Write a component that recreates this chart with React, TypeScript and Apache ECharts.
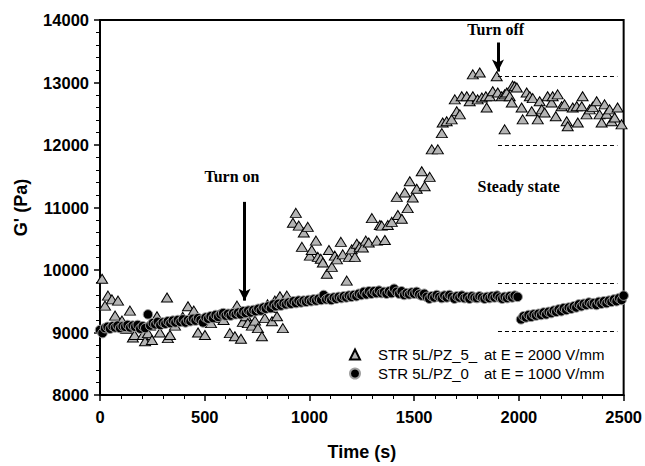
import React, { useEffect, useRef } from "react";
import * as echarts from "echarts";

const xTicks = [0, 500, 1000, 1500, 2000, 2500];
const yTicks = [8000, 9000, 10000, 11000, 12000, 13000, 14000];

const seriesNames = ["STR 5L/PZ_5_", "STR 5L/PZ_0"];
const seriesFields = ["at E = 2000 V/mm", "at E = 1000 V/mm"];

// STR 5L/PZ_5_ (triangles) [time s, G' Pa]
const triData: number[][] = [
  [10, 9860], [24, 9430], [38, 9590], [57, 9530], [72, 9270], [86, 9510], [105, 9190], [125, 9060],
  [143, 9350], [157, 8920], [165, 8960], [180, 9100], [205, 8960], [215, 8860], [229, 8990], [239, 9110],
  [248, 8880], [272, 9260], [286, 9000], [300, 9150], [320, 9560], [324, 8910], [334, 8960], [358, 9110],
  [372, 9190], [395, 9250], [420, 9420], [448, 9350], [468, 9000], [480, 9200], [501, 8960], [530, 9150],
  [560, 9230], [590, 9200], [620, 8990], [644, 8940], [654, 9430], [673, 8900], [682, 9170], [697, 9260],
  [706, 9150], [725, 9110], [740, 9190], [754, 9070], [773, 8940], [787, 9230], [800, 9450], [811, 9390],
  [821, 9180], [835, 9510], [845, 9260], [859, 9580], [873, 9070], [892, 9590],
  [921, 10755], [935, 10914], [949, 10710], [964, 10370], [973, 10600], [992, 10690], [1002, 10230],
  [1011, 10320], [1031, 10470], [1040, 10210], [1054, 10180], [1064, 10120], [1083, 9940], [1093, 10320],
  [1107, 10050], [1121, 10230], [1131, 10170], [1150, 10450], [1159, 10250], [1178, 9830], [1188, 10210],
  [1202, 10330], [1217, 10210], [1226, 10420], [1240, 10370], [1255, 10360], [1269, 10470], [1283, 10440],
  [1298, 10830], [1322, 10470], [1336, 10720], [1345, 10710], [1360, 10480], [1374, 10720], [1393, 10770],
  [1417, 11170], [1422, 10880], [1441, 10820], [1455, 11240], [1469, 10990], [1479, 11420], [1493, 11160],
  [1512, 11300], [1536, 11580], [1550, 11340], [1574, 11490], [1584, 11930], [1613, 11930], [1632, 12190],
  [1636, 12360], [1655, 12380], [1679, 12410], [1694, 12730], [1703, 12540], [1718, 12490], [1727, 12780],
  [1751, 12780], [1765, 12700], [1780, 12780], [1780, 13130], [1803, 12730], [1813, 13160], [1823, 12760],
  [1842, 12780], [1846, 12600], [1861, 12780], [1875, 12860], [1894, 13100], [1899, 12840], [1918, 12780],
  [1932, 12810], [1932, 12250], [1942, 12840], [1956, 12780], [1966, 12680], [1970, 12950], [1980, 12940],
  [1990, 12920], [2013, 12600], [2018, 12410], [2037, 12840], [2052, 12780], [2061, 12540], [2066, 12750],
  [2090, 12410], [2099, 12700], [2109, 12570], [2123, 12520], [2137, 12780], [2156, 12680], [2161, 12780],
  [2176, 12460], [2185, 12810], [2204, 12620], [2218, 12650], [2228, 12380], [2233, 12300], [2257, 12600],
  [2276, 12620], [2281, 12360], [2300, 12620], [2304, 12780], [2323, 12490], [2338, 12570], [2352, 12610],
  [2371, 12700], [2385, 12490], [2395, 12360], [2409, 12650], [2419, 12500], [2433, 12570], [2443, 12380],
  [2457, 12440], [2471, 12600], [2490, 12330],
];

// STR 5L/PZ_0 (circles) [time s, G' Pa]
const circData: number[][] = [
  [0, 9040], [12, 8990], [24, 9070], [36, 9090], [48, 9060], [60, 9100], [72, 9080], [84, 9110],
  [96, 9070], [108, 9100], [120, 9090], [132, 9120], [144, 9080], [156, 9110], [168, 9090], [180, 9120],
  [192, 9060], [204, 9100], [216, 9070], [229, 9290], [240, 9110], [252, 9150], [264, 9130], [276, 9170],
  [288, 9120], [300, 9160], [312, 9140], [324, 9180], [336, 9150], [348, 9190], [360, 9160], [372, 9200],
  [384, 9170], [396, 9210], [408, 9160], [420, 9200], [432, 9180], [444, 9220], [456, 9190], [468, 9230],
  [480, 9200], [492, 9160], [504, 9240], [516, 9220], [528, 9260], [540, 9230], [552, 9280], [564, 9250],
  [576, 9290], [588, 9310], [600, 9270], [612, 9300], [624, 9270], [636, 9310], [648, 9290], [660, 9320],
  [672, 9290], [684, 9340], [696, 9310], [708, 9350], [720, 9320], [732, 9360], [744, 9340], [756, 9380],
  [768, 9350], [780, 9400], [792, 9380], [804, 9420], [816, 9390], [828, 9450], [840, 9420], [852, 9460],
  [864, 9430], [876, 9470], [888, 9450], [900, 9480], [912, 9460], [924, 9500], [936, 9470], [948, 9510],
  [960, 9480], [972, 9510], [984, 9490], [996, 9520], [1008, 9500], [1020, 9530], [1032, 9510], [1044, 9540],
  [1056, 9520], [1068, 9600], [1080, 9530], [1092, 9550], [1104, 9520], [1116, 9560], [1128, 9540],
  [1140, 9570], [1152, 9550], [1164, 9580], [1176, 9560], [1188, 9590], [1200, 9570], [1212, 9600],
  [1224, 9580], [1236, 9620], [1248, 9600], [1260, 9650], [1272, 9610], [1284, 9660], [1296, 9620],
  [1308, 9660], [1320, 9630], [1332, 9670], [1344, 9630], [1356, 9650], [1368, 9620], [1380, 9660],
  [1392, 9630], [1404, 9700], [1416, 9650], [1428, 9620], [1440, 9660], [1452, 9600], [1464, 9630],
  [1476, 9610], [1488, 9640], [1500, 9620], [1512, 9650], [1524, 9610], [1536, 9590], [1548, 9620],
  [1560, 9570], [1572, 9540], [1584, 9580], [1596, 9560], [1608, 9600], [1620, 9570], [1632, 9550],
  [1644, 9590], [1656, 9560], [1668, 9600], [1680, 9570], [1692, 9540], [1704, 9580], [1716, 9560],
  [1728, 9590], [1740, 9550], [1752, 9570], [1764, 9540], [1776, 9580], [1788, 9560], [1800, 9550],
  [1812, 9580], [1824, 9560], [1836, 9540], [1848, 9570], [1860, 9550], [1872, 9580], [1884, 9560],
  [1896, 9590], [1908, 9560], [1920, 9540], [1932, 9570], [1944, 9550], [1956, 9580], [1968, 9560],
  [1980, 9590], [1994, 9570],
  [2010, 9210], [2022, 9260], [2034, 9240], [2046, 9280], [2058, 9250], [2070, 9290], [2082, 9270],
  [2094, 9300], [2106, 9280], [2118, 9320], [2130, 9290], [2142, 9330], [2154, 9310], [2166, 9350],
  [2178, 9330], [2190, 9370], [2202, 9340], [2214, 9390], [2226, 9360], [2238, 9400], [2250, 9380],
  [2262, 9420], [2274, 9400], [2286, 9450], [2298, 9420], [2310, 9460], [2322, 9440], [2334, 9480],
  [2346, 9450], [2358, 9470], [2370, 9440], [2382, 9490], [2394, 9460], [2406, 9500], [2418, 9470],
  [2430, 9510], [2442, 9490], [2454, 9530], [2466, 9500], [2478, 9550], [2490, 9520], [2500, 9590],
];

// Steady-state bands [tStart, tEnd, value]
const bandLines: number[][] = [
  [1900, 2470, 13100],
  [1900, 2470, 12000],
  [1900, 2470, 9790],
  [1900, 2470, 9020],
];
// Arrows [t, vFrom, vTo]
const arrows: number[][] = [
  [690, 11090, 9510],
  [1900, 13640, 13175],
];
// Annotation texts
const notes = [
  { text: "Turn on", t: 630, v: 11490 },
  { text: "Turn off", t: 1889, v: 13845 },
  { text: "Steady state", t: 1999, v: 11344 },
];

const SANS = "'Liberation Sans', Arial, sans-serif";
const SERIF = "'Liberation Serif', 'Times New Roman', serif";

export default function App() {
  const ref = useRef<HTMLDivElement>(null);
  useEffect(() => {
    if (!ref.current) return;
    const chart = echarts.init(ref.current, undefined, { renderer: "svg" });
    const markLineData: any[] = [];
    bandLines.forEach(([a, b, v]) => {
      markLineData.push([
        { coord: [a, v], symbol: "none", lineStyle: { type: [4, 3], width: 1, color: "#000" } },
        { coord: [b, v], symbol: "none" },
      ]);
    });
    arrows.forEach(([t, v1, v2]) => {
      markLineData.push([
        { coord: [t, v1], symbol: "none", lineStyle: { type: "solid", width: 3, color: "#000" } },
        { coord: [t, v2], symbol: "arrow", symbolSize: [9, 12] },
      ]);
    });
    const option: any = {
      animation: false,
      backgroundColor: "#fff",
      grid: {
        left: 100, right: 21, top: 20, bottom: 69,
        show: true, borderColor: "#000", borderWidth: 2,
      },
      xAxis: {
        type: "value", min: 0, max: 2500, interval: 500,
        name: "Time (s)", nameLocation: "middle", nameGap: 48,
        nameTextStyle: { fontFamily: SANS, fontWeight: "bold", fontSize: 18, color: "#000" },
        axisLine: { show: true, lineStyle: { color: "#000", width: 2 } },
        axisTick: { show: true, length: 6, lineStyle: { color: "#000", width: 1.5 } },
        minorTick: { show: true, splitNumber: 5, length: 4, lineStyle: { color: "#000", width: 1 } },
        splitLine: { show: false },
        axisLabel: { fontFamily: SANS, fontWeight: "bold", fontSize: 16.5, color: "#000", margin: 13,
          formatter: (v: number) => (xTicks.includes(v) ? String(v) : "") },
      },
      yAxis: {
        type: "value", min: 8000, max: 14000, interval: 1000,
        name: "G' (Pa)", nameLocation: "middle", nameGap: 70,
        nameTextStyle: { fontFamily: SANS, fontWeight: "bold", fontSize: 18, color: "#000" },
        axisLine: { show: true, lineStyle: { color: "#000", width: 2 } },
        axisTick: { show: true, length: 6, lineStyle: { color: "#000", width: 1.5 } },
        minorTick: { show: true, splitNumber: 5, length: 4, lineStyle: { color: "#000", width: 1 } },
        splitLine: { show: false },
        axisLabel: { fontFamily: SANS, fontWeight: "bold", fontSize: 16.5, color: "#000", margin: 11,
          formatter: (v: number) => (yTicks.includes(v) ? String(v) : "") },
      },
      legend: {
        orient: "vertical", left: 344, top: 342, itemGap: 4,
        itemWidth: 10, itemHeight: 10,
        data: seriesNames,
        formatter: (name: string) => {
          const i = seriesNames.indexOf(name);
          return `{a|${name}}{b|${seriesFields[i]}}`;
        },
        textStyle: {
          fontFamily: SANS, fontSize: 15, color: "#000",
          rich: {
            a: { fontFamily: SANS, fontSize: 15, color: "#000", width: 106, padding: [0, 0, 0, 13] },
            b: { fontFamily: SANS, fontSize: 15, color: "#000" },
          },
        },
      },
      series: [
        {
          name: seriesNames[0], type: "scatter", data: triData,
          symbol: "triangle", symbolSize: [11, 9],
          itemStyle: { color: "#b4b4b4", borderColor: "#000", borderWidth: 1, opacity: 1 },
          z: 3,
          markLine: { silent: true, symbol: "none", label: { show: false }, data: markLineData, animation: false },
        },
        {
          name: seriesNames[1], type: "scatter", data: circData,
          symbol: "circle", symbolSize: 9.5,
          itemStyle: { color: "#000", borderColor: "#a0a0a0", borderWidth: 1, opacity: 1 },
          z: 4,
        },
      ],
    };
    chart.setOption(option);
    const graphic = notes.map((n) => {
      const p = chart.convertToPixel({ gridIndex: 0 }, [n.t, n.v]) as number[];
      return {
        type: "text", x: p[0], y: p[1],
        style: { text: n.text, fontFamily: SERIF, fontWeight: "bold", fontSize: 16, fill: "#000",
          align: "center", verticalAlign: "middle" },
        z: 10,
      };
    });
    chart.setOption({ graphic });
    return () => chart.dispose();
  }, []);
  return <div ref={ref} style={{ width: 645, height: 466, position: "absolute", left: 0, top: 0 }} />;
}
